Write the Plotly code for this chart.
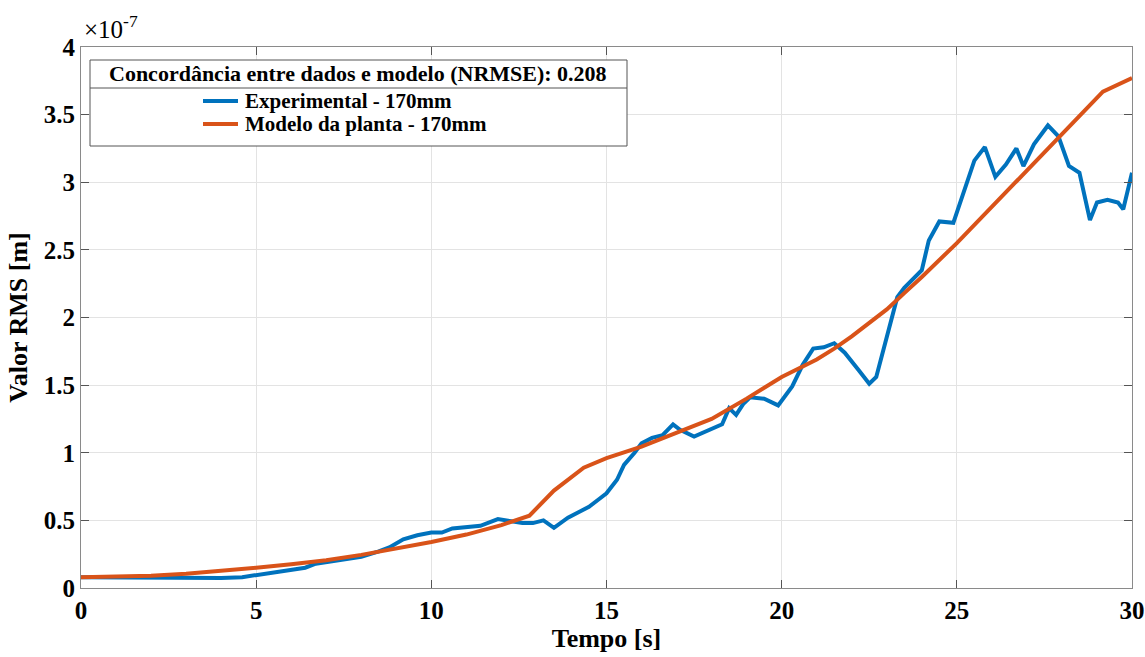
import plotly.graph_objects as go

# ---- data (values in units of 1e-7 m) ----
t_exp = [0, 1, 2, 3, 4, 4.6, 5, 5.5, 6, 6.4, 6.7, 7, 7.5, 8, 8.5, 8.8, 9.2, 9.6, 10, 10.3,
         10.6, 11, 11.4, 11.9, 12.3, 12.6, 12.9, 13.2, 13.5, 13.9, 14.2, 14.5, 14.8, 15.0,
         15.3, 15.5, 15.8, 16.0, 16.3, 16.6, 16.9, 17.1, 17.5, 18.0, 18.3, 18.5, 18.7, 18.9,
         19.1, 19.5, 19.9, 20.3, 20.6, 20.9, 21.2, 21.5, 21.8, 22.2, 22.5, 22.7, 23.0, 23.3,
         23.5, 24.0, 24.2, 24.5, 24.9, 25.2, 25.5, 25.8, 26.1, 26.4, 26.7, 26.9, 27.2, 27.6,
         27.9, 28.2, 28.5, 28.8, 29.0, 29.3, 29.6, 29.75, 30.0]
v_exp = [0.08, 0.078, 0.075, 0.08, 0.074, 0.08, 0.095, 0.11, 0.13, 0.15, 0.18, 0.19, 0.21,
         0.23, 0.27, 0.30, 0.36, 0.39, 0.41, 0.41, 0.44, 0.45, 0.46, 0.51, 0.49, 0.48, 0.48,
         0.50, 0.445, 0.52, 0.56, 0.60, 0.66, 0.70, 0.80, 0.91, 1.00, 1.07, 1.11, 1.13, 1.21,
         1.17, 1.12, 1.18, 1.21, 1.33, 1.28, 1.36, 1.41, 1.40, 1.35, 1.49, 1.65, 1.77, 1.78,
         1.81, 1.74, 1.61, 1.51, 1.56, 1.86, 2.15, 2.22, 2.35, 2.57, 2.71, 2.70, 2.92, 3.16,
         3.26, 3.04, 3.13, 3.25, 3.12, 3.28, 3.42, 3.34, 3.12, 3.07, 2.72, 2.85, 2.87, 2.85,
         2.80, 3.07]

t_mod = [0, 1, 2, 3, 4, 5, 6, 7, 8, 9, 10, 11, 12, 12.8, 13.5, 14.35, 15, 16, 17, 18, 19,
         20, 21, 21.5, 22, 22.5, 23, 23.5, 24, 25, 26, 27, 28, 29.17, 30]
v_mod = [0.08, 0.082, 0.09, 0.105, 0.125, 0.15, 0.175, 0.205, 0.245, 0.29, 0.34, 0.395,
         0.465, 0.535, 0.72, 0.89, 0.96, 1.045, 1.15, 1.25, 1.40, 1.56, 1.69, 1.77, 1.86,
         1.96, 2.06, 2.18, 2.30, 2.55, 2.82, 3.09, 3.36, 3.67, 3.77]

x_ticks = [0, 5, 10, 15, 20, 25, 30]
y_ticks = [0, 0.5, 1, 1.5, 2, 2.5, 3, 3.5, 4]
y_tick_labels = ["0", "0.5", "1", "1.5", "2", "2.5", "3", "3.5", "4"]

name_exp = "Experimental - 170mm"
name_mod = "Modelo da planta - 170mm"
legend_title = "Concordância entre dados e modelo (NRMSE): 0.208"

BLUE = "#0072BD"
ORANGE = "#D95319"
FONT = "Liberation Serif"

W, H = 1145, 657
L, R, T, B = 81, 13, 47, 69
PW, PH = W - L - R, H - T - B


def px(x):
    return (x - L) / PW


def py(y):
    return (H - B - y) / PH


fig = go.Figure()
fig.add_trace(go.Scatter(x=t_exp, y=v_exp, mode="lines", name=name_exp,
                         line=dict(color=BLUE, width=4), showlegend=False))
fig.add_trace(go.Scatter(x=t_mod, y=v_mod, mode="lines", name=name_mod,
                         line=dict(color=ORANGE, width=4), showlegend=False))

axis_common = dict(
    showline=True, linecolor="#8a8a8a", linewidth=1, mirror="ticks",
    ticks="inside", ticklen=8, tickcolor="#555555",
    showgrid=True, gridcolor="#e3e3e3", gridwidth=1, zeroline=False,
    tickfont=dict(family=FONT, size=25, color="black"),
    automargin=False,
)

fig.update_xaxes(range=[0, 30], tickvals=x_ticks,
                 ticktext=["<b>%d</b>" % v for v in x_ticks],
                 title=dict(text="<b>Tempo [s]</b>", font=dict(family=FONT, size=26, color="black"),
                            standoff=4),
                 **axis_common)
fig.update_yaxes(range=[0, 4], tickvals=y_ticks,
                 ticktext=["<b>%s</b>" % s for s in y_tick_labels],
                 title=dict(text="<b>Valor RMS [m]</b>", font=dict(family=FONT, size=26, color="black"),
                            standoff=8),
                 **axis_common)

shapes = []
annotations = []
# manual MATLAB-style legend
shapes.append(dict(type="rect", xref="paper", yref="paper",
                   x0=px(90), x1=px(627), y0=py(146), y1=py(60),
                   line=dict(color="#555555", width=1), fillcolor="white", layer="above"))
shapes.append(dict(type="line", xref="paper", yref="paper",
                   x0=px(90), x1=px(627), y0=py(88), y1=py(88),
                   line=dict(color="#555555", width=1), layer="above"))
annotations.append(dict(xref="paper", yref="paper", x=px(358), y=py(74),
                        text="<b>" + legend_title + "</b>", showarrow=False,
                        xanchor="center", yanchor="middle",
                        font=dict(family=FONT, size=22, color="black")))
for yy, col, nm in [(101, BLUE, name_exp), (124, ORANGE, name_mod)]:
    shapes.append(dict(type="line", xref="paper", yref="paper",
                       x0=px(203), x1=px(238), y0=py(yy), y1=py(yy),
                       line=dict(color=col, width=4), layer="above"))
    annotations.append(dict(xref="paper", yref="paper", x=px(243), y=py(yy),
                            text="<b>" + nm + "</b>", showarrow=False,
                            xanchor="left", yanchor="middle",
                            font=dict(family=FONT, size=21, color="black")))

# exponent label
annotations.append(dict(xref="paper", yref="paper", x=px(82), y=py(45),
                        text="×10<sup>-7</sup>", showarrow=False,
                        xanchor="left", yanchor="bottom",
                        font=dict(family=FONT, size=25, color="black")))

fig.update_layout(
    width=W, height=H,
    margin=dict(l=L, r=R, t=T, b=B, autoexpand=False),
    paper_bgcolor="white", plot_bgcolor="white",
    shapes=shapes, annotations=annotations,
    showlegend=False,
)

fig.write_html("out.html",
               config={"displayModeBar": False},
               post_script="document.documentElement.style.margin='0';"
                           "document.body.style.margin='0';"
                           "document.body.style.overflow='hidden';")
